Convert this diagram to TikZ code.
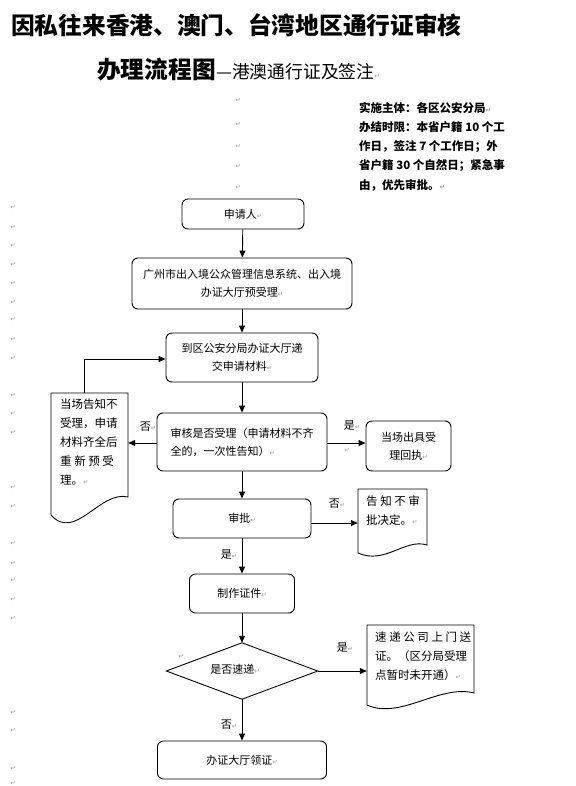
\documentclass[tikz,border=0pt]{standalone}
\usepackage{fontspec}
\setmainfont{Noto Sans CJK SC}
\newfontfamily\djv{DejaVu Sans}
\usetikzlibrary{arrows.meta}
\newcommand{\rmk}{{\djv\fontsize{6.5}{6.5}\selectfont\color{gray!80}↵}}
\begin{document}
\begin{tikzpicture}[x=1pt,y=-1pt,
  box/.style={draw, rounded corners=6pt, line width=0.9pt, align=center, inner sep=0pt, font=\fontsize{11}{18}\selectfont},
  docnode/.style={inner sep=0pt},
  doctext/.style={anchor=north west, align=left, inner sep=0pt, font=\fontsize{11.5}{18.8}\selectfont},
  lbl/.style={inner sep=0pt, font=\fontsize{11}{13}\selectfont},
  arr/.style={line width=0.9pt, -{Triangle[length=7pt,width=6pt]}},
  ln/.style={line width=0.9pt},
  pm/.style={inner sep=0pt}]
\useasboundingbox (0,0) rectangle (575,786);

% title
\node[anchor=west, inner sep=0pt, font=\fontsize{23.7}{26}\selectfont\bfseries] (t1) at (11,25) {因私往来香港、澳门、台湾地区通行证审核};
\node[anchor=west, inner sep=0pt, font=\fontsize{23.7}{26}\selectfont\bfseries] (t2) at (97,70) {办理流程图};
\node[anchor=base west, inner sep=0pt, font=\fontsize{17.8}{20}\selectfont] (t3) at (t2.base east) {—港澳通行证及签注\rmk};

% info
\node[anchor=north west, align=left, inner sep=0pt, font=\fontsize{11.5}{19.2}\selectfont\bfseries] (info) at (359,102) {实施主体：各区公安分局\rmk\\办结时限：本省户籍 10 个工\\作日，签注 7 个工作日；外\\省户籍 30 个自然日；紧急事\\由，优先审批。\rmk};

% paragraph marks
\foreach \yy [count=\i] in {100,124,146,166,187} \node[pm] (pa\i) at (238,\yy) {\rmk};
\foreach \yy [count=\i] in {207,227,245,264,283,302,319,339,358,395,413,432,487,506,543,563,580,599,618,712,730,768,783} \node[pm] (pb\i) at (13,\yy) {\rmk};

% main boxes
\node[box, minimum width=122, minimum height=30] (n1) at (243,214) {申请人\rmk};
\node[box, minimum width=220, minimum height=51] (n2) at (242,283.5) {广州市出入境公众管理信息系统、出入境\\办证大厅预受理\rmk};
\node[box, minimum width=152, minimum height=49] (n3) at (242,357.5) {到区公安分局办证大厅递\\交申请材料\rmk};
\node[box, minimum width=170, minimum height=58, align=left] (n4) at (242,442) {审核是否受理（申请材料不齐\\全的，一次性告知）\rmk};
\node[box, minimum width=85, minimum height=50] (n6) at (408.5,446) {当场出具受\\理回执\rmk};
\node[box, minimum width=138, minimum height=39] (n7) at (242,518.5) {审批\rmk};
\node[box, minimum width=105, minimum height=39] (n9) at (242,593.5) {制作证件\rmk};
\node[inner sep=0pt, minimum width=151, minimum height=56] (n10) at (242,671) {};
\draw[ln] (n10.north) -- (n10.east) -- (n10.south) -- (n10.west) -- cycle;
\node[lbl] (n10t) at (235,669) {是否速递\rmk};
\node[box, minimum width=169, minimum height=38] (n12) at (242,760) {办证大厅领证\rmk};

% document shapes
\node[docnode, minimum width=77, minimum height=122] (n5) at (89.5,454) {};
\draw[ln] (51,515) -- (51,393) -- (128,393) -- (128,497) .. controls (100,490) and (75,542) .. cycle;
\node[doctext] (n5t) at (60,399) {当场告知不\\受理，申请\\材料齐全后\\重 新 预 受\\理。\rmk};

\node[docnode, minimum width=69, minimum height=64] (n8) at (392.5,521) {};
\draw[ln] (358,553) -- (358,489) -- (427,489) -- (427,545) .. controls (405,538) and (385,565) .. cycle;
\node[doctext] (n8t) at (366,496) {告 知 不 审\\批决定。\rmk};

\node[docnode, minimum width=107, minimum height=80] (n11) at (420.5,665) {};
\draw[ln] (367,705) -- (367,625) -- (474,625) -- (474,693) .. controls (440,684) and (400,720) .. cycle;
\node[doctext] (n11t) at (375,632) {速 递 公 司 上 门 送\\证。（区分局受理\\点暂时未开通）\rmk};

% connectors
\draw[arr] (n1) -- (n2);
\draw[arr] (n2) -- (n3);
\draw[arr] (n3) -- (n4);
\draw[arr] ([yshift=-1pt]n4.west) -- ([yshift=-1pt]n4.west -| n5.east);
\draw[arr] ([xshift=-5.5pt]n5.north) |- ([yshift=-1.5pt]n3.west);
\draw[arr] ([yshift=-1pt]n4.east) -- ([yshift=-1pt]n4.east -| n6.west);
\draw[arr] (n4) -- (n7);
\draw[arr] ([yshift=-4.5pt]n7.east) -- ([yshift=-4.5pt]n7.east -| n8.west);
\draw[arr] (n7) -- (n9);
\draw[arr] (n9) -- (n10.north);
\draw[arr] (n10.east) -- (n10.east -| n11.west);
\draw[arr] (n10.south) -- (n12);

% labels
\node[lbl] (l1) at (148,427) {否\rmk};
\node[lbl] (l2) at (352,426) {是\rmk};
\node[pm] (l2b) at (347,450) {\rmk};
\node[lbl] (l3) at (337,504) {否\rmk};
\node[lbl] (l4) at (229,555) {是\rmk};
\node[pm] (l5b) at (181,656) {\rmk};
\node[lbl] (l5) at (345,648) {是\rmk};
\node[lbl] (l6) at (229,725) {否\rmk};
\end{tikzpicture}
\end{document}
